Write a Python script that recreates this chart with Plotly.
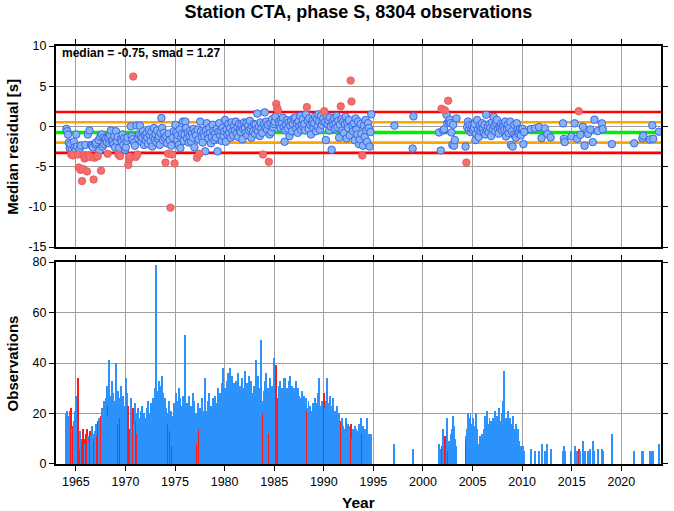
import plotly.graph_objects as go

TITLE = "Station CTA, phase S, 8304 observations"
MEDIAN = -0.75
SMAD = 1.27
X_RANGE = [1963, 2024]
YEAR_TICKS = [1965, 1970, 1975, 1980, 1985, 1990, 1995, 2000, 2005, 2010, 2015, 2020]
RES_TICKS = [-15, -10, -5, 0, 5, 10]
OBS_TICKS = [0, 20, 40, 60, 80]

# Monthly medians / counts, Jan 1964 .. Dec 1994 (12 values per year)
DENSE_START_YEAR = 1964
RES_1964_1994 = [
    -0.3, -0.6, -1.0, -2.0, -2.7, -2.2, -3.5, -2.9, -3.6, -1.9, -2.6, -3.0,   # 1964
    -1.0, -2.5, -3.5, -5.1, -2.8, -5.4, -2.4, -6.8, -5.3, -3.6, -4.0, -2.3,   # 1965
    -3.8, -5.6, -1.0, -3.6, -0.5, -3.8, -2.3, -2.4, -2.6, -6.6, -3.9, -2.2,   # 1966
    -2.0, -3.7, -3.7, -1.7, -3.0, -1.3, -5.5, -1.0, -2.5, -1.4, -2.2, -1.6,   # 1967
    -1.5, -2.0, -3.4, -1.4, -2.1, -1.1, -0.5, -1.9, -1.7, -2.2, -1.2, -2.6,   # 1968
    -0.6, -1.8, -1.3, -3.5, -2.7, -3.7, -1.6, -1.9, -1.0, -2.3, -1.5, -2.9,   # 1969
    -2.6, -1.8, -1.4, -4.8, -4.1, -3.75, 0.0, -1.2, -1.6, 6.2, -2.0, -2.4,   # 1970
    -3.8, 0.1, -3.5, -1.5, -1.0, 0.1, -1.2, -1.9, -1.4, -0.6, -2.3, -1.1,     # 1971
    -1.7, -0.9, -1.4, -2.2, -0.4, -1.1, -1.8, -0.7, -2.5, -1.3, -0.2, -1.6,   # 1972
    -1.0, -2.0, -0.5, -1.5, -1.2, -2.3, -0.8, 1.05, -0.2, -1.7, -0.8, -1.4,   # 1973
    -4.5, -1.2, -2.1, -3.4, -0.9, -1.7, -10.1, -2.4, -3.5, -1.4, -0.6, -4.6,  # 1974
    0.2, -0.8, -1.6, -1.1, -2.3, -0.4, -2.7, -1.3, -0.9, 0.6, -1.8, -1.0,     # 1975
    0.6, -0.2, -1.5, -0.8, -2.0, -1.2, -0.5, -1.9, -0.9, -1.4, -0.3, -2.6,    # 1976
    -0.7, -1.1, -3.9, -0.4, -1.6, -3.4, 0.6, -0.6, -1.3, -2.0, -0.8, -1.2,    # 1977
    -3.1, -0.5, 0.4, -1.0, -1.5, -0.2, -0.8, -2.1, -1.3, 0.2, -0.6, -1.7,     # 1978
    -0.9, -1.4, -0.3, -3.1, -0.7, 0.4, -1.1, -0.5, -1.8, -0.2, -1.2, -0.6,    # 1979
    0.8, -1.9, -0.4, -1.0, 0.3, -0.8, -0.2, -1.4, 0.5, -0.6, -1.1, 0.1,       # 1980
    -0.5, 0.6, -0.9, -0.1, -1.3, 0.3, -0.4, -0.7, 0.2, -1.6, -0.3, 0.5,       # 1981
    -0.2, -0.8, 0.4, -1.1, 0.1, -0.5, 0.7, -0.3, -1.4, 0.0, -0.6, 0.3,        # 1982
    -0.9, 0.2, -0.4, 1.6, -0.6, 0.0, -1.2, 0.5, -0.3, -0.8, -3.5, 0.3,        # 1983
    1.75, -0.2, 0.6, -0.4, 0.2, -4.4, -1.0, 0.4, -0.7, 0.9, -0.1, 0.3,        # 1984
    0.6, 1.2, 2.8, 2.3, 2.0, 0.6, 0.3, -0.2, 0.9, 0.4, 1.1, -0.1,             # 1985
    -1.9, -0.5, 0.2, 0.8, -0.3, 0.5, -1.2, 0.1, 0.7, -0.6, 0.3, 1.0,          # 1986
    0.8, 1.1, -0.2, 0.4, -0.8, 0.6, 0.0, 1.3, -0.4, 0.2, 0.9, -0.1,           # 1987
    0.3, -0.5, 1.5, 2.4, 0.7, -0.3, 1.0, 0.2, -1.0, 0.5, 0.8, -0.2,           # 1988
    0.4, 1.2, -0.6, 0.9, 0.0, 1.5, 0.6, -0.4, 1.3, 0.2, 0.7, 1.0,             # 1989
    1.9, 0.5, -1.7, 1.3, 0.3, 0.8, -0.5, 1.1, 0.0, -2.9, 0.6, 0.2,            # 1990
    1.0, -0.3, 0.4, 1.3, -0.1, 0.7, -1.4, 0.2, 2.5, 0.9, -0.5, 0.6,           # 1991
    -0.8, 0.3, 1.2, -1.5, 0.5, -0.2, 0.8, -1.1, 5.7, 3.1, 0.1, -0.6,          # 1992
    0.4, -1.7, 1.0, -0.4, -1.0, 0.6, -2.2, -1.6, 0.3, -0.9, -3.6, -2.4,       # 1993
    0.1, -1.3, 0.8, -0.5, -1.9, 0.4, -0.2, -2.5, -0.7, 1.5, None, None,       # 1994
]
CNT_1964_1994 = [
    20, 21, 19, 18, 21, 16, 22, 14, 15, 17, 21, 12,   # 1964
    27, 16, 34, 8, 13, 6, 10, 9, 14, 4, 10, 8,        # 1965
    12, 14, 11, 10, 9, 13, 11, 15, 12, 10, 8, 13,     # 1966
    16, 11, 17, 18, 14, 15, 19, 22, 20, 25, 18, 24,   # 1967
    26, 31, 23, 19, 41, 27, 24, 33, 21, 28, 17, 25,   # 1968
    40, 22, 29, 16, 26, 18, 31, 24, 20, 27, 23, 19,   # 1969
    34, 22, 28, 23, 14, 10, 26, 18, 21, 22, 16, 24,   # 1970
    17, 20, 12, 22, 18, 15, 21, 19, 23, 16, 20, 14,   # 1971
    18, 22, 16, 25, 20, 17, 24, 19, 22, 26, 21, 30,   # 1972
    79, 25, 29, 22, 33, 27, 31, 24, 35, 28, 20, 26,   # 1973
    13, 22, 20, 16, 25, 18, 13, 21, 7, 19, 24, 11,    # 1974
    22, 28, 19, 25, 30, 21, 26, 17, 23, 27, 20, 51,   # 1975
    51, 18, 24, 21, 15, 27, 19, 23, 16, 28, 22, 25,   # 1976
    17, 20, 8, 24, 19, 14, 22, 18, 26, 15, 21, 19,    # 1977
    34, 21, 17, 25, 19, 28, 15, 23, 20, 26, 18, 22,   # 1978
    27, 16, 24, 30, 19, 23, 28, 21, 32, 25, 38, 26,   # 1979
    30, 24, 33, 28, 36, 26, 38, 31, 27, 35, 29, 32,   # 1980
    28, 33, 25, 30, 36, 27, 31, 24, 29, 34, 26, 30,   # 1981
    37, 29, 24, 32, 27, 35, 30, 25, 33, 28, 22, 31,   # 1982
    26, 28, 41, 24, 35, 28, 30, 27, 49, 25, 20, 29,   # 1983
    33, 27, 36, 25, 30, 12, 28, 34, 24, 31, 22, 42,   # 1984
    35, 29, 39, 26, 20, 31, 27, 33, 24, 30, 28, 34,   # 1985
    32, 34, 28, 30, 26, 33, 29, 35, 27, 31, 24, 30,   # 1986
    28, 25, 33, 22, 30, 27, 19, 26, 23, 29, 21, 27,   # 1987
    24, 20, 26, 21, 22, 25, 19, 23, 21, 17, 24, 20,   # 1988
    22, 26, 19, 24, 21, 28, 34, 23, 20, 25, 18, 22,   # 1989
    28, 22, 25, 34, 19, 24, 21, 27, 18, 23, 20, 26,   # 1990
    17, 21, 15, 19, 23, 16, 20, 14, 17, 12, 18, 15,   # 1991
    14, 11, 18, 13, 9, 16, 12, 15, 16, 13, 10, 14,    # 1992
    12, 15, 11, 14, 9, 13, 16, 10, 14, 18, 12, 15,    # 1993
    11, 14, 9, 13, 18, 10, 12, 8, 7, 12, 0, 0,        # 1994
]

# Monthly medians / counts, Apr 2004 .. Mar 2010
CLUSTER_START = (2004, 4)
RES_2004_2010 = [
    -2.5, -4.5, -0.1, 0.6, -0.4, 0.2, -0.7, -0.3, 0.1,                       # 2004 Apr-Dec
    -0.5, -0.2, 0.3, -1.7, -0.9, 0.8, -0.4, -1.3, 0.1, -0.6, -0.2, 0.4,       # 2005
    -0.3, -0.8, 0.2, -1.0, 1.45, -0.5, 0.0, -0.7, 0.3, -0.2, -1.2, 0.5,       # 2006
    -0.4, 1.2, 0.1, -0.6, 0.4, 0.8, -0.3, -0.9, 0.0, -0.2, 0.3, -0.5,         # 2007
    0.1, -0.1, -0.4, 0.6, -1.25, -0.3, 0.2, -0.8, -0.2, 0.6, -2.3, -0.6,      # 2008
    -2.5, -1.0, 0.2, -1.2, -1.4, 0.4, -0.4, -0.9, -0.6, -0.3, -1.1, -0.4,     # 2009
    -0.3, -2.2, -0.7,                                                         # 2010 Jan-Mar
]
CNT_2004_2010 = [
    11, 9, 14, 20, 17, 18, 20, 13, 16,
    18, 15, 12, 13, 20, 14, 8, 8, 9, 11, 10, 12,
    12, 14, 19, 17, 15, 21, 12, 16, 18, 14, 17, 15,
    18, 17, 13, 21, 16, 19, 14, 18, 22, 15, 17, 20,
    25, 37, 29, 16, 18, 17, 21, 15, 14, 18, 16, 14,
    17, 19, 14, 13, 16, 12, 14, 10, 9, 6, 7, 5,
    6, 7, 5,
]

# Scattered months outside the two dense periods
SPARSE_MONTHS = [
    "1997-02", "1998-12", "1999-01",
    "2001-08", "2001-10", "2001-11", "2002-01", "2002-02", "2002-03", "2002-05",
    "2002-06", "2002-07", "2002-08", "2002-09", "2002-10", "2002-11", "2002-12",
    "2003-01", "2003-02", "2003-03", "2003-05",
    "2010-11", "2011-04", "2011-09", "2011-12", "2012-04", "2012-07", "2012-11",
    "2014-02", "2014-03", "2014-04", "2014-12", "2015-04", "2015-07", "2015-09",
    "2015-11", "2016-02", "2016-04", "2016-08", "2016-11", "2017-02", "2017-04",
    "2017-08", "2018-01", "2018-02", "2019-01", "2021-04", "2022-02", "2022-03",
    "2022-11", "2023-02", "2023-03", "2023-10",
]
SPARSE_RES = [
    0.1, -2.75, 1.25,
    -0.75, -3.0, 2.2, -0.5, -0.35, 2.0, 1.45,
    0.4, 3.2, 0.6, 0.85, 0.4, -0.75, -2.3,
    0.2, -2.4, -1.7, 1.0,
    -0.33, -0.25, -0.08, -1.45, -0.25, -0.95, -1.37,
    0.38, -1.54, -1.95, -1.25, 0.38, -1.54, 1.9,
    -1.04, -0.04, -2.4, -0.95, -0.37, -1.95, 0.84,
    -0.58, 0.38, -0.33, -2.2, -2.1, -1.5, -1.16,
    -1.62, 0.13, -1.54, -0.66,
]
SPARSE_CNT = [
    8, 6, 6,
    8, 6, 7, 14, 10, 11, 18,
    13, 5, 9, 7, 9, 12, 14,
    19, 15, 10, 7,
    6, 5, 5, 8, 5, 8, 6,
    5, 7, 5, 5, 7, 5, 6,
    5, 9, 5, 5, 6, 9, 5,
    6, 6, 5, 12, 5, 5, 5,
    5, 5, 5, 8,
]

# ---------------------------------------------------------------- assemble
def month_mid(year, month):
    return year + (month - 0.5) / 12.0

times, res, cnt = [], [], []
for i, (r, c) in enumerate(zip(RES_1964_1994, CNT_1964_1994)):
    times.append(month_mid(DENSE_START_YEAR + i // 12, i % 12 + 1))
    res.append(r)
    cnt.append(c)
y0, m0 = CLUSTER_START
for i, (r, c) in enumerate(zip(RES_2004_2010, CNT_2004_2010)):
    k = (m0 - 1) + i
    times.append(month_mid(y0 + k // 12, k % 12 + 1))
    res.append(r)
    cnt.append(c)
for s, r, c in zip(SPARSE_MONTHS, SPARSE_RES, SPARSE_CNT):
    yy, mm = s.split("-")
    times.append(month_mid(int(yy), int(mm)))
    res.append(r)
    cnt.append(c)

upper2 = MEDIAN + 2 * SMAD
lower2 = MEDIAN - 2 * SMAD

def is_out(r):
    return r is not None and (r > upper2 or r < lower2)

bt, br, rt, rr = [], [], [], []
for t, r in zip(times, res):
    if r is None:
        continue
    if is_out(r):
        rt.append(t); rr.append(r)
    else:
        bt.append(t); br.append(r)

bar_colors = ["#ff1a1a" if is_out(r) else "#2b92fb" for r in res]

FONT = "Liberation Sans"
fig = go.Figure()

# reference lines (drawn first, under the points)
for val, col, w in [
    (upper2, "#ff0000", 2.6), (lower2, "#ff0000", 2.6),
    (MEDIAN + SMAD, "#ffa500", 2.6), (MEDIAN - SMAD, "#ffa500", 2.6),
    (MEDIAN, "#00ee00", 3.6),
]:
    fig.add_trace(go.Scatter(x=X_RANGE, y=[val, val], mode="lines",
                             line=dict(color=col, width=w),
                             hoverinfo="skip", showlegend=False,
                             xaxis="x", yaxis="y"))

fig.add_trace(go.Scatter(x=bt, y=br, mode="markers",
                         marker=dict(size=7.5, color="#88b3f3",
                                     line=dict(color="#3a66ea", width=1)),
                         showlegend=False, xaxis="x", yaxis="y"))
fig.add_trace(go.Scatter(x=rt, y=rr, mode="markers",
                         marker=dict(size=7.5, color="#f46e6e",
                                     line=dict(color="#e65555", width=0.8)),
                         showlegend=False, xaxis="x", yaxis="y"))

fig.add_trace(go.Bar(x=times, y=cnt, width=0.1,
                     marker=dict(color=bar_colors, line=dict(width=0)),
                     showlegend=False, xaxis="x2", yaxis="y2"))

GRID = "#a0a0a0"
tickfont = dict(family=FONT, size=12.5, color="black")
common_x = dict(range=X_RANGE, tickvals=YEAR_TICKS,
                ticktext=[str(v) for v in YEAR_TICKS],
                showgrid=True, gridcolor=GRID, gridwidth=1, zeroline=False,
                showline=True, linecolor="black", linewidth=2,
                ticks="outside", ticklen=5, tickwidth=1, tickcolor="black",
                tickfont=tickfont)

fig.update_layout(
    width=674, height=511,
    margin=dict(l=56, r=6, t=46, b=47),
    paper_bgcolor="white", plot_bgcolor="white",
    bargap=0, barmode="overlay",
    showlegend=False,
    xaxis=dict(common_x, anchor="y", side="top", showticklabels=False,
               mirror=True),
    yaxis=dict(domain=[0.519, 1.0], range=[-15, 10], tickvals=RES_TICKS,
               ticktext=[str(v) for v in RES_TICKS],
               showgrid=True, gridcolor=GRID, gridwidth=1, zeroline=False,
               showline=True, linecolor="black", linewidth=2, mirror="ticks",
               ticks="outside", ticklen=5, tickwidth=1, tickcolor="black",
               tickfont=tickfont),
    xaxis2=dict(common_x, anchor="y2", mirror="ticks"),
    yaxis2=dict(domain=[0.0, 0.483], range=[0, 80], tickvals=OBS_TICKS,
                ticktext=[str(v) for v in OBS_TICKS],
                showgrid=True, gridcolor=GRID, gridwidth=1, zeroline=False,
                showline=True, linecolor="black", linewidth=2, mirror="ticks",
                ticks="outside", ticklen=5, tickwidth=1, tickcolor="black",
                tickfont=tickfont),
    title=dict(text="<b>" + TITLE + "</b>", x=0.5, xref="paper",
               y=1 - 12 / 511, yref="container", yanchor="middle",
               font=dict(family=FONT, size=18, color="black")),
    annotations=[
        dict(text="<b>median = %.2f, smad = %.2f</b>" % (MEDIAN, SMAD),
             xref="paper", yref="paper", x=0.006, y=0.983,
             xanchor="left", yanchor="middle", showarrow=False,
             font=dict(family=FONT, size=12, color="black")),
        dict(text="<b>Median residual [s]</b>", xref="paper", yref="paper",
             x=-0.072, y=0.76, textangle=-90, showarrow=False,
             xanchor="center", yanchor="middle",
             font=dict(family=FONT, size=15, color="black")),
        dict(text="<b>Observations</b>", xref="paper", yref="paper",
             x=-0.072, y=0.2416, textangle=-90, showarrow=False,
             xanchor="center", yanchor="middle",
             font=dict(family=FONT, size=15, color="black")),
        dict(text="<b>Year</b>", xref="paper", yref="paper",
             x=0.5, y=-0.0933, showarrow=False,
             xanchor="center", yanchor="middle",
             font=dict(family=FONT, size=15.5, color="black")),
    ],
)

fig.write_html("out.html",
               config={"displayModeBar": False},
               post_script="document.body.style.margin='0px';"
                           "document.body.style.overflow='hidden';")
